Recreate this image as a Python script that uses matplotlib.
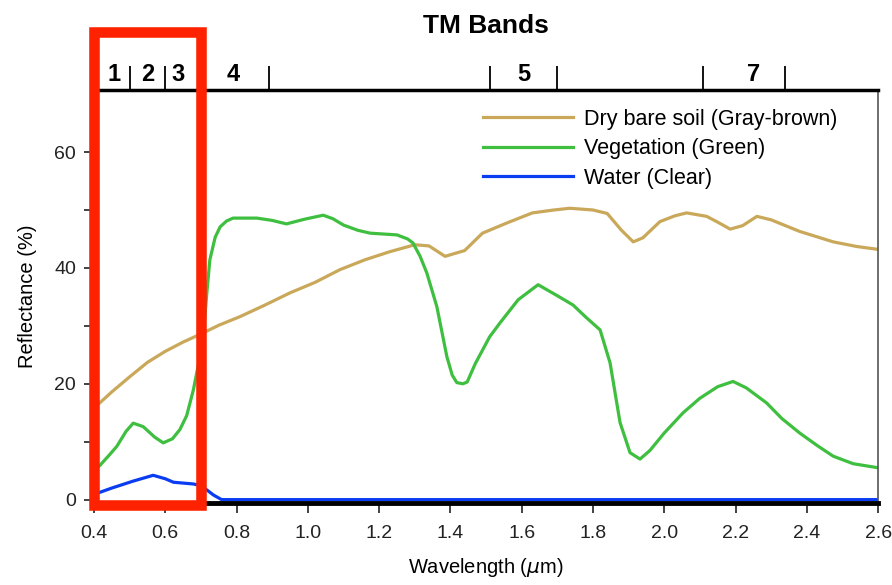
import matplotlib.pyplot as plt
from matplotlib.patches import Rectangle

# spectral reflectance curves
soil_wl = [0.40, 0.45, 0.50, 0.55, 0.60, 0.65, 0.70, 0.75, 0.81, 0.88, 0.95, 1.02,
           1.09, 1.16, 1.23, 1.30, 1.34, 1.385, 1.44, 1.49, 1.56, 1.63, 1.69, 1.735,
           1.80, 1.84, 1.88, 1.913, 1.94, 1.988, 2.03, 2.063, 2.119, 2.15, 2.185,
           2.22, 2.26, 2.30, 2.38, 2.474, 2.54, 2.60]
soil_r = [15.8, 18.6, 21.2, 23.7, 25.6, 27.2, 28.6, 30.1, 31.6, 33.6, 35.7, 37.5,
          39.7, 41.4, 42.8, 44.0, 43.8, 42.0, 43.0, 46.0, 47.8, 49.5, 50.0, 50.3,
          50.0, 49.4, 46.5, 44.5, 45.2, 48.0, 49.0, 49.5, 48.9, 47.9, 46.7,
          47.3, 48.9, 48.3, 46.3, 44.5, 43.7, 43.2]

veg_wl = [0.40, 0.44, 0.464, 0.49, 0.51, 0.538, 0.57, 0.594, 0.62, 0.641, 0.66, 0.679,
          0.695, 0.707, 0.717, 0.725, 0.74, 0.754, 0.772, 0.79, 0.857, 0.90, 0.94,
          0.99, 1.043, 1.07, 1.10, 1.14, 1.175, 1.25, 1.28, 1.295, 1.315, 1.334,
          1.362, 1.39, 1.405, 1.418, 1.435, 1.447, 1.47, 1.51, 1.539, 1.59, 1.646,
          1.70, 1.744, 1.78, 1.82, 1.848, 1.876, 1.904, 1.932, 1.96, 2.00, 2.053,
          2.10, 2.15, 2.193, 2.23, 2.287, 2.33, 2.38, 2.43, 2.474, 2.53, 2.60]
veg_r = [4.8, 7.5, 9.2, 11.8, 13.2, 12.6, 10.8, 9.8, 10.5, 12.1, 14.5, 19.0,
         24.0, 28.7, 36.0, 41.4, 45.3, 47.1, 48.1, 48.6, 48.6, 48.2, 47.6,
         48.4, 49.1, 48.5, 47.4, 46.5, 46.0, 45.7, 45.0, 44.3, 42.0, 39.1,
         33.3, 24.7, 21.5, 20.2, 20.0, 20.3, 23.5, 28.1, 30.5, 34.5, 37.1,
         35.2, 33.6, 31.5, 29.3, 23.6, 13.3, 8.1, 7.0, 8.5, 11.5, 15.0,
         17.5, 19.5, 20.4, 19.3, 16.7, 14.0, 11.5, 9.3, 7.5, 6.2, 5.5]

water_wl = [0.40, 0.45, 0.51, 0.566, 0.60, 0.623, 0.679, 0.70, 0.716, 0.735, 0.758, 1.0, 2.6]
water_r = [0.9, 2.0, 3.2, 4.2, 3.6, 3.0, 2.7, 2.4, 1.7, 0.8, 0.0, 0.0, 0.0]

# Landsat TM band edges / labels for the top axis
band_edges = [0.50, 0.60, 0.89, 1.51, 1.70, 2.11, 2.34]
band_label_pos = [0.455, 0.55, 0.635, 0.79, 1.605, 2.25]
band_labels = ['1', '2', '3', '4', '5', '7']
highlight = (0.40, 0.70)  # visible range boxed in red

soil_col = '#c9a85a'
veg_col = '#3fbf3f'
water_col = '#0a3cf2'

plt.rcParams['font.family'] = ['Liberation Sans', 'DejaVu Sans']

fig = plt.figure(figsize=(8.92, 5.85), dpi=100)
ax = fig.add_axes([0.1054, 0.140, 0.879, 0.706])

ax.plot(soil_wl, soil_r, color=soil_col, lw=2.3, label='Dry bare soil (Gray-brown)')
ax.plot(veg_wl, veg_r, color=veg_col, lw=2.3, label='Vegetation (Green)')
ax.plot(water_wl, water_r, color=water_col, lw=2.3, label='Water (Clear)')

ax.set_xlim(0.4, 2.6)
ax.set_ylim(-0.6, 70.7)
ax.set_xticks([0.4 + 0.2 * i for i in range(12)])
ax.set_xticklabels(['%.1f' % (0.4 + 0.2 * i) for i in range(12)])
ax.set_yticks([0, 20, 40, 60])
ax.set_yticks([10, 30, 50], minor=True)
ax.tick_params(axis='both', labelsize=14, direction='out', length=7, width=1.2, colors='#222222')
ax.tick_params(axis='y', which='minor', length=7, width=1.2, colors='#222222')
ax.tick_params(axis='x', pad=9)
ax.tick_params(axis='y', pad=6)

ax.spines['bottom'].set_linewidth(3.5)
ax.spines['top'].set_linewidth(2.5)
ax.spines['right'].set_linewidth(1.2)
ax.spines['right'].set_color('#555555')
ax.spines['left'].set_linewidth(1.0)

ax.set_xlabel(r'Wavelength ($\mu$m)', fontsize=14.5, labelpad=10)
ax.set_ylabel('Reflectance (%)', fontsize=14.5, labelpad=12)

leg = ax.legend(loc='upper left', bbox_to_anchor=(0.496, 0.955), frameon=False,
                fontsize=15.5, handlelength=4.2, handletextpad=0.5, labelspacing=0.4,
                borderpad=0, borderaxespad=0)

# top axis showing TM bands
ax2 = ax.twiny()
ax2.set_xlim(ax.get_xlim())
ax2.set_xticks(band_edges)
ax2.set_xticklabels([])
ax2.set_xticks(band_label_pos, minor=True)
ax2.set_xticklabels(band_labels, minor=True, fontweight='bold', fontsize=17)
ax2.tick_params(axis='x', which='major', length=17, width=1.3, direction='out')
ax2.tick_params(axis='x', which='minor', length=0, pad=3)
for s in ax2.spines.values():
    s.set_visible(False)
ax2.set_title('TM Bands', fontsize=19, fontweight='bold', pad=41)

# red highlight box
rect = Rectangle((highlight[0], -0.005), highlight[1] - highlight[0], 1.146,
                 transform=ax.get_xaxis_transform(), fill=False,
                 edgecolor='#ff2200', lw=7.6, clip_on=False, zorder=10)
ax.add_patch(rect)

fig.savefig('out.png', dpi=100)
